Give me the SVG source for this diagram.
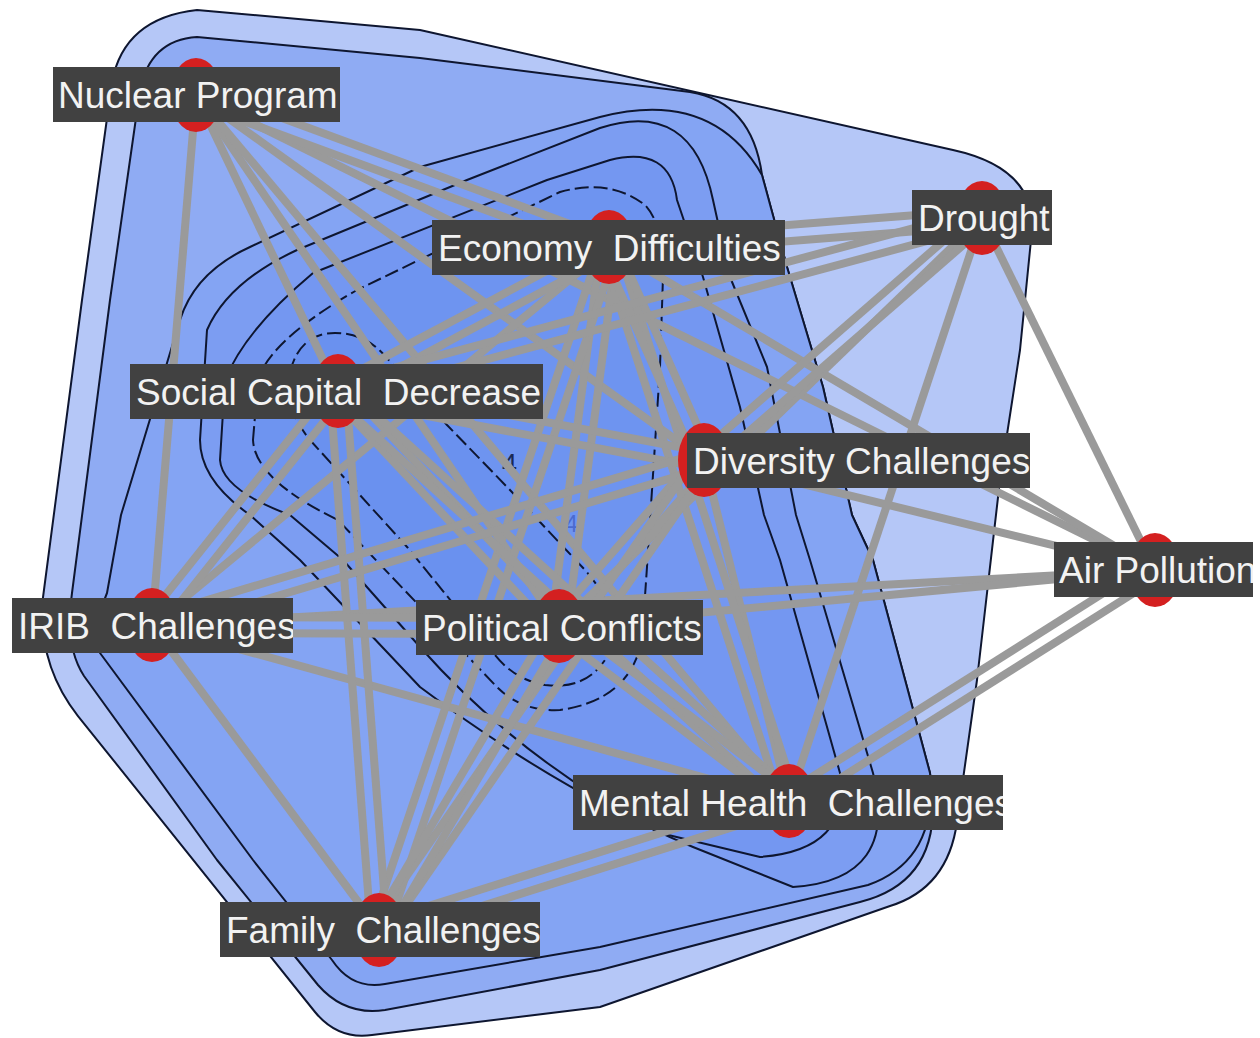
<svg xmlns="http://www.w3.org/2000/svg" width="1260" height="1038" viewBox="0 0 1260 1038">
<style>
.ct{stroke:#0e1630;stroke-width:2;stroke-linejoin:round}
.dash{stroke-dasharray:14 5}
.e line{stroke:#9a9a9a;stroke-width:8}
.dot{fill:#d42020}
.box{fill:#414141}
.lbl{font-family:"Liberation Sans",Arial,sans-serif;font-size:37px;fill:#f2f2f2}
.cl{font-family:"Liberation Sans",Arial,sans-serif;fill:#1a2a55}
</style>
<defs>
<clipPath id="cN"><rect x="53" y="67" width="287" height="55"/></clipPath>
<clipPath id="cE"><rect x="432" y="220" width="353" height="55"/></clipPath>
<clipPath id="cD"><rect x="912" y="190" width="140" height="55"/></clipPath>
<clipPath id="cS"><rect x="130" y="364" width="413" height="55"/></clipPath>
<clipPath id="cV"><rect x="687" y="433" width="343" height="55"/></clipPath>
<clipPath id="cA"><rect x="1054" y="542" width="199" height="55"/></clipPath>
<clipPath id="cI"><rect x="12" y="598" width="281" height="55"/></clipPath>
<clipPath id="cP"><rect x="416" y="600" width="287" height="55"/></clipPath>
<clipPath id="cM"><rect x="573" y="775" width="430" height="55"/></clipPath>
<clipPath id="cF"><rect x="220" y="902" width="320" height="55"/></clipPath>
</defs>
<rect width="1260" height="1038" fill="#ffffff"/>
<g id="contours">
<path class="ct" fill="#b5c7f7" d="M197,10 L420,30 L953,150 Q1035,168 1032,230 L1020,350 L1000,480 L977,680 L957,822 Q948,888 890,906 L600,1007 L372,1035 Q338,1040 315,1012 L78,716 Q40,668 42,605 L82,300 L112,82 Q124,18 197,10 Z"/>
<path class="ct" fill="#8fabf3" d="M197,37 L420,58 L690,92 Q752,102 762,175 L787,267 L823,387 L852,515 L873,560 L930,773 Q948,880 860,902 L600,970 L385,1010 Q345,1016 318,985 L217,860 L84,676 Q64,645 72,593 L110,300 L140,90 Q150,40 197,37 Z"/>
<path class="ct" fill="#84a4f3" d="M180,320 Q195,272 250,247 L420,167 L600,117 Q712,88 762,175 L787,267 L823,387 L852,515 L873,560 L930,773 Q938,860 868,885 L600,947 L385,984 Q352,990 332,960 L253,860 L100,653 Q92,628 107,593 L121,515 Z"/>
<path class="ct" fill="#7c9df2" d="M200,440 L207,330 Q228,282 297,250 L467,180 L600,128 Q692,98 713,200 L730,277 L767,367 L796,515 L810,560 L873,773 Q900,880 793,887 L693,847 Q560,792 420,687 L300,560 L250,515 Q200,480 200,440 Z"/>
<path class="ct" fill="#7497f1" d="M220,460 L225,380 Q245,330 313,273 L547,180 L610,160 Q670,145 677,200 L703,277 L740,407 L764,515 L780,560 L840,773 Q852,850 760,857 L660,833 Q520,760 420,647 L343,560 L290,515 Q222,490 220,460 Z"/>
<path class="ct dash" fill="#6e94f0" d="M253,440 L258,380 Q270,340 357,290 L560,192 Q610,178 645,205 Q664,225 663,277 L660,367 L647,567 L642,640 Q630,700 560,710 Q520,712 495,685 L390,575 L338,520 Q255,480 253,440 Z"/>
<path class="ct dash" fill="#6a91ef" d="M290,372 Q300,333 335,333 Q365,333 385,356 L447,425 L510,490 L585,570 Q625,615 605,660 Q585,690 545,685 Q515,680 495,655 L408,548 L310,440 Q285,410 290,372 Z"/>
<text class="cl" x="502" y="473" font-size="27">4</text>
<text class="cl" x="565" y="532" font-size="23" style="fill:#4a6ad0">4</text>
</g>
<g id="connectors" class="e">
<line x1="196" y1="95" x2="152" y2="625"/>
<line x1="196" y1="95" x2="338" y2="391"/>
<line x1="196" y1="95" x2="559" y2="626"/>
<line x1="196" y1="95" x2="789" y2="801"/>
<line x1="196" y1="95" x2="704" y2="460"/>
<line x1="196" y1="95" x2="1155" y2="570"/>
<line x1="609" y1="247" x2="152" y2="625"/>
<line x1="609" y1="247" x2="1155" y2="570"/>
<line x1="982" y1="218" x2="559" y2="626"/>
<line x1="982" y1="218" x2="789" y2="801"/>
<line x1="982" y1="218" x2="1155" y2="570"/>
<line x1="704" y1="460" x2="789" y2="801"/>
<line x1="704" y1="460" x2="1155" y2="570"/>
<line x1="152" y1="625" x2="379" y2="930"/>
<line x1="152" y1="625" x2="789" y2="801"/>
<line x1="152" y1="625" x2="1155" y2="570"/>
<line x1="559" y1="626" x2="1155" y2="570"/>
<line x1="193.2" y1="102.5" x2="606.2" y2="254.5"/>
<line x1="198.8" y1="87.5" x2="611.8" y2="239.5"/>
<line x1="605.2" y1="239.9" x2="334.2" y2="383.9"/>
<line x1="612.8" y1="254.1" x2="341.8" y2="398.1"/>
<line x1="601.1" y1="246" x2="551.1" y2="625"/>
<line x1="616.9" y1="248" x2="566.9" y2="627"/>
<line x1="601.4" y1="244.4" x2="371.4" y2="927.4"/>
<line x1="616.6" y1="249.6" x2="386.6" y2="932.6"/>
<line x1="601.4" y1="249.5" x2="781.4" y2="803.5"/>
<line x1="616.6" y1="244.5" x2="796.6" y2="798.5"/>
<line x1="601.7" y1="250.3" x2="696.7" y2="463.3"/>
<line x1="616.3" y1="243.7" x2="711.3" y2="456.7"/>
<line x1="609.6" y1="255" x2="982.6" y2="226"/>
<line x1="608.4" y1="239" x2="981.4" y2="210"/>
<line x1="979.9" y1="210.3" x2="335.9" y2="383.3"/>
<line x1="984.1" y1="225.7" x2="340.1" y2="398.7"/>
<line x1="976.7" y1="212" x2="698.7" y2="454"/>
<line x1="987.3" y1="224" x2="709.3" y2="466"/>
<line x1="331.7" y1="386" x2="145.7" y2="620"/>
<line x1="344.3" y1="396" x2="158.3" y2="630"/>
<line x1="332.2" y1="396.5" x2="553.2" y2="631.5"/>
<line x1="343.8" y1="385.5" x2="564.8" y2="620.5"/>
<line x1="330" y1="391.6" x2="371" y2="930.6"/>
<line x1="346" y1="390.4" x2="387" y2="929.4"/>
<line x1="332.6" y1="396.9" x2="783.6" y2="806.9"/>
<line x1="343.4" y1="385.1" x2="794.4" y2="795.1"/>
<line x1="336.5" y1="398.9" x2="702.5" y2="467.9"/>
<line x1="339.5" y1="383.1" x2="705.5" y2="452.1"/>
<line x1="701.7" y1="452.3" x2="149.7" y2="617.3"/>
<line x1="706.3" y1="467.7" x2="154.3" y2="632.7"/>
<line x1="698" y1="454.7" x2="553" y2="620.7"/>
<line x1="710" y1="465.3" x2="565" y2="631.3"/>
<line x1="697.4" y1="455.4" x2="372.4" y2="925.4"/>
<line x1="710.6" y1="464.6" x2="385.6" y2="934.6"/>
<line x1="152" y1="617" x2="559" y2="618"/>
<line x1="152" y1="633" x2="559" y2="634"/>
<line x1="552.1" y1="621.9" x2="372.1" y2="925.9"/>
<line x1="565.9" y1="630.1" x2="385.9" y2="934.1"/>
<line x1="554.2" y1="632.4" x2="784.2" y2="807.4"/>
<line x1="563.8" y1="619.6" x2="793.8" y2="794.6"/>
<line x1="786.6" y1="793.4" x2="376.6" y2="922.4"/>
<line x1="791.4" y1="808.6" x2="381.4" y2="937.6"/>
<line x1="793.3" y1="807.8" x2="1159.3" y2="576.8"/>
<line x1="784.7" y1="794.2" x2="1150.7" y2="563.2"/>
</g>
<g id="node-nuclear"><ellipse class="dot" cx="196" cy="95" rx="26" ry="37"/><rect class="box" x="53" y="67" width="287" height="55"/><text class="lbl" x="58" y="108" clip-path="url(#cN)">Nuclear Program</text></g>
<g id="node-economy"><ellipse class="dot" cx="609" cy="247" rx="26" ry="37"/><rect class="box" x="432" y="220" width="353" height="55"/><text class="lbl" x="438" y="261" clip-path="url(#cE)" xml:space="preserve">Economy  Difficulties</text></g>
<g id="node-drought"><ellipse class="dot" cx="982" cy="218" rx="26" ry="37"/><rect class="box" x="912" y="190" width="140" height="55"/><text class="lbl" x="918" y="231" clip-path="url(#cD)">Drought</text></g>
<g id="node-social"><ellipse class="dot" cx="338" cy="391" rx="26" ry="37"/><rect class="box" x="130" y="364" width="413" height="55"/><text class="lbl" x="136" y="405" clip-path="url(#cS)" xml:space="preserve">Social Capital  Decrease</text></g>
<g id="node-diversity"><ellipse class="dot" cx="704" cy="460" rx="26" ry="37"/><rect class="box" x="687" y="433" width="343" height="55"/><text class="lbl" x="693" y="474" clip-path="url(#cV)">Diversity Challenges</text></g>
<g id="node-air"><ellipse class="dot" cx="1155" cy="570" rx="26" ry="37"/><rect class="box" x="1054" y="542" width="199" height="55"/><text class="lbl" x="1059" y="583" clip-path="url(#cA)">Air Pollution</text></g>
<g id="node-irib"><ellipse class="dot" cx="152" cy="625" rx="26" ry="37"/><rect class="box" x="12" y="598" width="281" height="55"/><text class="lbl" x="18" y="639" clip-path="url(#cI)" xml:space="preserve">IRIB  Challenges</text></g>
<g id="node-political"><ellipse class="dot" cx="559" cy="626" rx="26" ry="37"/><rect class="box" x="416" y="600" width="287" height="55"/><text class="lbl" x="422" y="641" clip-path="url(#cP)">Political Conflicts</text></g>
<g id="node-mental"><ellipse class="dot" cx="789" cy="801" rx="26" ry="37"/><rect class="box" x="573" y="775" width="430" height="55"/><text class="lbl" x="579" y="816" clip-path="url(#cM)" xml:space="preserve">Mental Health  Challenges</text></g>
<g id="node-family"><ellipse class="dot" cx="379" cy="930" rx="26" ry="37"/><rect class="box" x="220" y="902" width="320" height="55"/><text class="lbl" x="226" y="943" clip-path="url(#cF)" xml:space="preserve">Family  Challenges</text></g>
</svg>
